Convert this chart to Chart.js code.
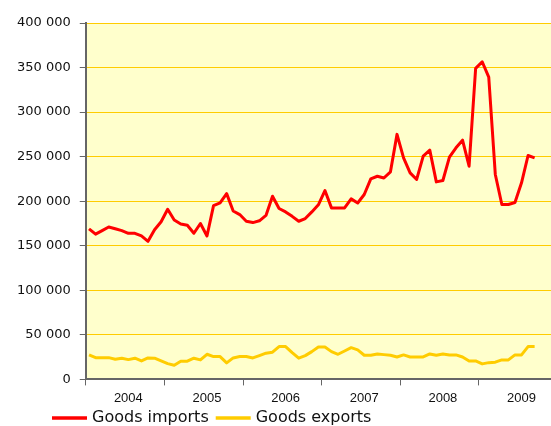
<!DOCTYPE html>
<html>
<head>
<meta charset="utf-8">
<script src="https://cdn.jsdelivr.net/npm/chart.js@4/dist/chart.umd.min.js"></script>
<style>
  html, body { margin: 0; padding: 0; background: #fff; }
  #wrap { width: 551px; height: 426px; position: relative; }
</style>
</head>
<body>
<div id="wrap"><canvas id="chart"></canvas></div>
<script>
// ─── Data (monthly, Jan 2004 – Sep 2009) ───────────────────────────────────────
const years = [2004, 2005, 2006, 2007, 2008, 2009];
const yTicks = [0, 50000, 100000, 150000, 200000, 250000, 300000, 350000, 400000];
const seriesNames = ['Goods imports', 'Goods exports'];

const goodsImports = [
  169000, 163000, 167000, 171000, 169000, 167000, 164000, 164000, 161000, 155000, 168000, 177000,
  191000, 179000, 174500, 173000, 164000, 175000, 161000, 195000, 198000, 208500, 189000, 185000,
  177500, 176000, 178000, 184000, 205600, 191800, 188000, 183000, 177500, 180500, 188000, 196000,
  212000, 192500, 192500, 192500, 202600, 198000, 207500, 225000, 228000, 226000, 233000, 275000,
  248700, 231800, 224400, 250600, 257300, 221700, 223200, 249400, 259900, 268500, 239300, 349100,
  356500, 339300, 230000, 196300, 196300, 198500, 220600, 251300, 248700
];
const goodsExports = [
  27500, 24400, 24400, 24400, 22600, 23800, 22200, 23800, 20700, 24100, 23800, 20700,
  17700, 15900, 20400, 20400, 23800, 21900, 28200, 25600, 25600, 18500, 24100, 25600,
  25600, 24100, 26700, 29400, 30500, 36800, 36800, 30000, 23800, 26700, 31200, 36400,
  36400, 31200, 28200, 31900, 35600, 33100, 27100, 27100, 28600, 27800, 27100, 25200,
  27500, 25200, 25200, 25200, 28600, 27100, 28600, 27500, 27500, 25200, 20700, 20700,
  17400, 18800, 19300, 21900, 21900, 27500, 27500, 36800, 36800
];
const seriesColors = ['#ff0000', '#ffcc00'];
const monthsShown = 71; // axis runs Jan 2004 .. Nov 2009

// ─── Helpers ───────────────────────────────────────────────────────────────────
const spaced = v => String(v).replace(/\B(?=(\d{3})+(?!\d))/g, ' ');
const toPoints = arr => arr.map((v, i) => ({ x: i, y: v }));
const isYearEdge = v => Math.abs(((v + 0.5) % 12)) < 1e-6;

// plot background
const plotBg = {
  id: 'plotBg',
  beforeDraw(chart) {
    const { ctx, chartArea: a } = chart;
    ctx.save();
    ctx.fillStyle = '#ffffcc';
    ctx.fillRect(a.left, a.top, a.right - a.left, a.bottom - a.top);
    ctx.restore();
  }
};

// legend below the axis, drawn by hand so it sits where the original has it
const lineLegend = {
  id: 'lineLegend',
  afterDraw(chart) {
    const { ctx } = chart;
    let x = 52;
    const y = 418;
    ctx.save();
    ctx.font = '16px "DejaVu Sans"';
    ctx.textBaseline = 'middle';
    chart.data.datasets.forEach(ds => {
      ctx.strokeStyle = ds.borderColor;
      ctx.lineWidth = 3.5;
      ctx.beginPath();
      ctx.moveTo(x, y);
      ctx.lineTo(x + 35, y);
      ctx.stroke();
      x += 40;
      ctx.fillStyle = '#111';
      ctx.fillText(ds.label, x, y);
      x += ctx.measureText(ds.label).width + 7;
    });
    ctx.restore();
  }
};

new Chart(document.getElementById('chart'), {
  type: 'line',
  data: {
    datasets: [
      { label: seriesNames[0], data: toPoints(goodsImports), borderColor: seriesColors[0], borderWidth: 3 },
      { label: seriesNames[1], data: toPoints(goodsExports), borderColor: seriesColors[1], borderWidth: 3 }
    ]
  },
  options: {
    responsive: true,
    maintainAspectRatio: false,
    animation: false,
    events: [],
    elements: { point: { radius: 0 }, line: { tension: 0, borderJoinStyle: 'round' } },
    layout: { padding: { left: 8, right: 0, top: 23, bottom: 15 } },
    plugins: { legend: { display: false }, tooltip: { enabled: false } },
    scales: {
      x: {
        type: 'linear',
        min: -0.5,
        max: monthsShown - 0.5,
        afterBuildTicks(scale) {
          const t = [];
          years.forEach((yr, k) => {
            t.push({ value: k * 12 - 0.5 });
            t.push({ value: k * 12 + 6 });
          });
          scale.ticks = t;
        },
        ticks: {
          autoSkip: false,
          maxRotation: 0,
          padding: 5,
          color: '#111',
          font: { family: '"Liberation Sans"', size: 13 },
          callback: v => isYearEdge(v) ? '' : String(years[Math.round((v - 6) / 12)])
        },
        grid: {
          drawOnChartArea: false,
          tickLength: 6,
          tickColor: ctx => (ctx.tick && isYearEdge(ctx.tick.value)) ? '#666' : 'rgba(0,0,0,0)'
        },
        border: { display: true, color: '#666', width: 2 }
      },
      y: {
        min: 0,
        max: 400000,
        afterBuildTicks(scale) {
          scale.ticks = yTicks.map(v => ({ value: v }));
        },
        ticks: {
          padding: 9,
          color: '#111',
          font: { family: '"DejaVu Sans"', size: 13 },
          callback: v => spaced(v)
        },
        grid: { color: '#ffcc00', lineWidth: 1, tickLength: 6, tickColor: '#666' },
        border: { display: true, color: '#666', width: 2 }
      }
    }
  },
  plugins: [plotBg, lineLegend]
});
</script>
</body>
</html>
